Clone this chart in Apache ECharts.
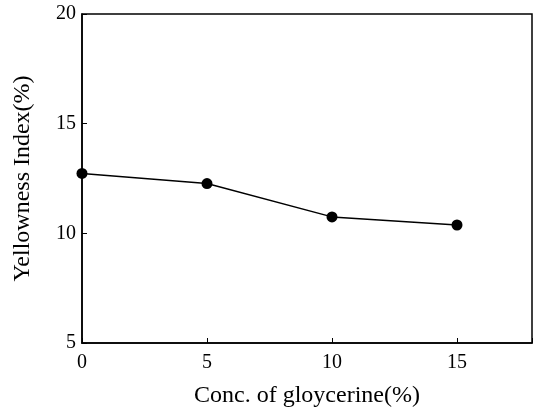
<!DOCTYPE html>
<html>
<head>
<meta charset="utf-8">
<script src="https://cdn.jsdelivr.net/npm/echarts@6/dist/echarts.min.js"></script>
<style>html,body{margin:0;padding:0;background:#fff;}#c{width:536px;height:411px;}</style>
</head>
<body>
<div id="c"></div>
<script>
const xValues = [0, 5, 10, 15];
const yellowness = [12.73, 12.27, 10.75, 10.38];
const xTitle = 'Conc. of gloycerine(%)';
const yTitle = 'Yellowness Index(%)';

const chart = echarts.init(document.getElementById('c'), null, {renderer: 'canvas'});
const font = 'Liberation Serif';
chart.setOption({
  animation: false,
  backgroundColor: '#fff',
  grid: {left: 82, top: 14, right: 4, bottom: 68, show: true, borderColor: '#000', borderWidth: 1.5,
    containLabel: false, outerBoundsMode: 'none'},
  xAxis: {
    type: 'value', min: 0, max: 18, interval: 5,
    name: xTitle, nameLocation: 'middle', nameGap: 41,
    nameTextStyle: {fontFamily: font, fontSize: 24, color: '#000'},
    axisLine: {show: true, lineStyle: {color: '#000', width: 1.5}},
    axisTick: {show: true, inside: true, length: 5, lineStyle: {color: '#000'}},
    axisLabel: {fontFamily: font, fontSize: 20, color: '#000', margin: 10,
      formatter: v => (v % 5 === 0 && v <= 15) ? String(v) : ''},
    splitLine: {show: false}
  },
  yAxis: {
    type: 'value', min: 5, max: 20, interval: 5,
    name: yTitle, nameLocation: 'middle', nameGap: 47, nameRotate: 90,
    nameTextStyle: {fontFamily: font, fontSize: 24, color: '#000'},
    axisLine: {show: true, lineStyle: {color: '#000', width: 1.5}},
    axisTick: {show: true, inside: true, length: 5, lineStyle: {color: '#000'}},
    axisLabel: {fontFamily: font, fontSize: 20, color: '#000', margin: 6},
    splitLine: {show: false}
  },
  series: [{
    type: 'line',
    data: xValues.map((x, i) => [x, yellowness[i]]),
    symbol: 'circle', symbolSize: 11,
    itemStyle: {color: '#000'},
    lineStyle: {color: '#000', width: 1.5}
  }]
});
</script>
</body>
</html>
